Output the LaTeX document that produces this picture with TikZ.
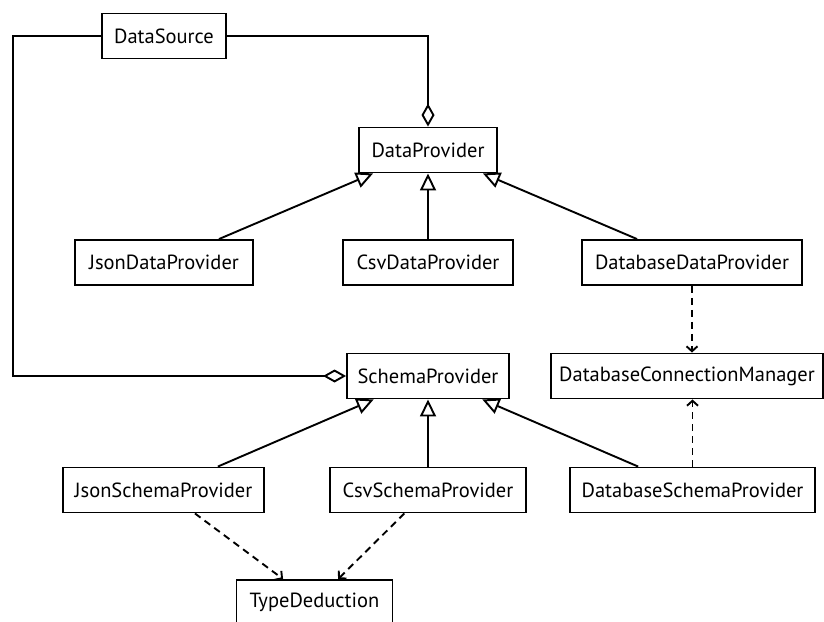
\documentclass[tikz,border=0pt]{standalone}
\usepackage{fontspec}
\setmainfont{PT Sans}
\usetikzlibrary{arrows.meta}
\begin{document}
\begin{tikzpicture}[x=1pt,y=-1pt,
  cls/.style={draw, line width=1.9pt, minimum height=45pt, inner sep=0pt,
    font=\fontsize{20.5}{24}\selectfont},
  conn/.style={line width=1.9pt},
  inherit/.style={conn, -{Triangle[open,length=17pt,width=16pt]}},
  aggr/.style={conn, -{Diamond[open,length=23pt,width=13pt]}},
  uses/.style={conn, dash pattern=on 7pt off 5pt,
    -{Straight Barb[length=5pt,width=11pt]}}]
\useasboundingbox (0,0) rectangle (824,621);

% classes
\node[cls, minimum width=124pt] (ds)  at (164,36)    {DataSource};
\node[cls, minimum width=138pt] (dp)  at (428,150)   {DataProvider};
\node[cls, minimum width=178pt] (jdp) at (164,262.5) {JsonDataProvider};
\node[cls, minimum width=170pt] (cdp) at (428,262.5) {CsvDataProvider};
\node[cls, minimum width=220pt] (ddp) at (692,262.5) {DatabaseDataProvider};
\node[cls, minimum width=162pt] (sp)  at (428,376)   {SchemaProvider};
\node[cls, minimum width=272pt] (dcm) at (687,376)   {DatabaseConnectionManager};
\node[cls, minimum width=201pt] (jsp) at (163.5,490) {JsonSchemaProvider};
\node[cls, minimum width=196pt] (csp) at (428,490)   {CsvSchemaProvider};
\node[cls, minimum width=245pt] (dsp) at (692.5,490) {DatabaseSchemaProvider};
\node[cls, minimum width=156pt] (td)  at (314.5,602.5) {TypeDeduction};

% aggregation
\coordinate (bend) at (13,36);
\draw[aggr] (ds.east) -| (dp.north);
\draw[aggr] (ds.west) -- (bend) |- (sp.west);

% generalisation
\draw[inherit] (jdp) -- (dp);
\draw[inherit] (cdp) -- (dp);
\draw[inherit] (ddp) -- (dp);
\draw[inherit] (jsp) -- (sp);
\draw[inherit] (csp) -- (sp);
\draw[inherit] (dsp) -- (sp);

% dependencies
\draw[uses] (ddp.south) -- (ddp.south |- dcm.north);
\draw[uses] (dsp.north) -- (dsp.north |- dcm.south);
\draw[uses] (jsp) -- (td);
\draw[uses] (csp) -- (td);
\end{tikzpicture}
\end{document}
